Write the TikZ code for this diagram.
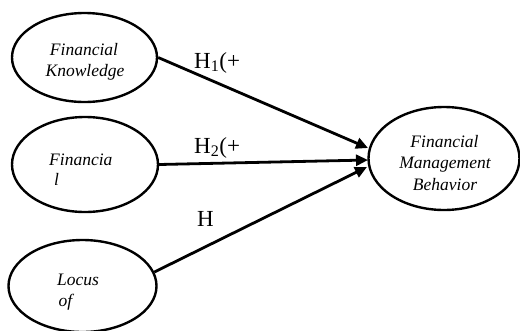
\documentclass[tikz,border=0pt]{standalone}
\usepackage{fontspec}
\setmainfont{Liberation Serif}
\usetikzlibrary{shapes.geometric,arrows.meta}
\tikzset{
  ell/.style={draw, ellipse, line width=2.4pt, inner sep=0pt},
  arr/.style={line width=2.8pt, -{Triangle[length=12pt,width=11pt]}},
  etext/.style={font=\fontsize{17.5}{21}\itshape, inner sep=0pt},
  hlab/.style={font=\fontsize{23}{26}\selectfont, inner sep=0pt, anchor=base west}
}
\begin{document}
\begin{tikzpicture}[x=1pt,y=-1pt]
\useasboundingbox (0,0) rectangle (520,330);
% ellipses
\node[ell, minimum width=145pt, minimum height=89pt] (e1) at (84.5,57.5) {};
\node[ell, minimum width=146pt, minimum height=95pt] (e2) at (85,164.5) {};
\node[ell, minimum width=148pt, minimum height=92pt] (e3) at (82.5,286) {};
\node[ell, minimum width=151pt, minimum height=103pt] (e4) at (444,158.5) {};
% texts
\node[etext, anchor=base] (t1a) at (84,55) {Financial};
\node[etext, anchor=base] (t1b) at (85,76) {Knowledge};
\node[etext, anchor=base west] (t2a) at (49,165) {Financia};
\node[etext, anchor=base west] (t2b) at (54,185) {l};
\node[etext, anchor=base west] (t3a) at (57,285) {Locus};
\node[etext, anchor=base west] (t3b) at (58.5,306) {of};
\node[etext, anchor=base] (t4a) at (444.5,147) {Financial};
\node[etext, anchor=base] (t4b) at (445,168) {Management};
\node[etext, anchor=base] (t4c) at (445,190) {Behavior};
% arrow tips
\coordinate (p1) at (368,148);
\coordinate (p2) at (368,160);
\coordinate (p3) at (367,167);
\draw[arr] (e1.east) -- (p1);
\draw[arr] (e2.east) -- (p2);
\draw[arr] (e3.11) -- (p3);
% labels
\node[hlab] (h1) at (194,68) {H\textsubscript{1}(+};
\node[hlab] (h2) at (194,153) {H\textsubscript{2}(+};
\node[hlab] (h3) at (197,226) {H};
\end{tikzpicture}
\end{document}
